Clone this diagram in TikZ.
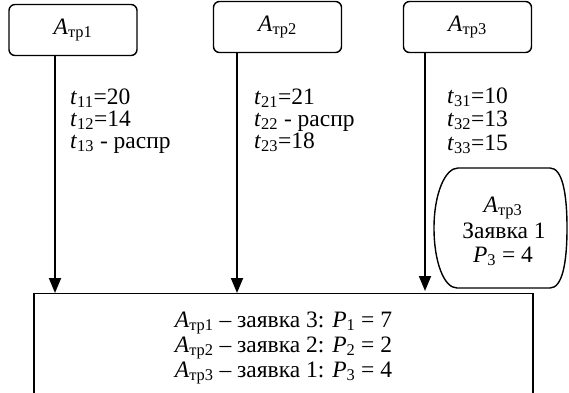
\documentclass[tikz,border=0pt]{standalone}
\usepackage{fontspec}
\setmainfont{Liberation Serif}
\usetikzlibrary{arrows.meta}
\newcommand\Atr[1]{\textit{A}\textsubscript{тр#1}}
\newcommand\tsub[1]{\textit{t}\textsubscript{#1}}
\newcommand\Psub[1]{\textit{P}\textsubscript{#1}}
\begin{document}
\begin{tikzpicture}[x=1pt,y=-1pt,
  font=\fontsize{23.5}{26}\selectfont,
  tbox/.style={draw, line width=1.4pt, rounded corners=6pt, inner sep=0pt,
    minimum width=128pt, minimum height=51pt},
  arr/.style={line width=1.8pt, -{Triangle[width=12pt,length=15pt]}},
  lbl/.style={anchor=base west, inner sep=0pt},
  ctr/.style={anchor=base, inner sep=0pt}]
\clip (0,0) rectangle (569,392);
\fill[white] (0,0) rectangle (569,392);
% top boxes
\node[tbox] (a1) at (73,30) {\Atr1};
\node[tbox] (a2) at (277.5,27) {\Atr2};
\node[tbox] (a3) at (467.5,27) {\Atr3};
% result box
\node[draw, line width=1.3pt, minimum width=499pt, minimum height=150pt,
  anchor=north, inner sep=0pt] (res) at (283.5,293) {};
\node[ctr] (r1) at (283.5,327) {\Atr1 – заявка 3: \Psub1 = 7};
\node[ctr] (r2) at (283.5,352) {\Atr2 – заявка 2: \Psub2 = 2};
\node[ctr] (r3) at (283.5,377) {\Atr3 – заявка 1: \Psub3 = 4};
% arrow x positions
\coordinate (p1) at (55,0);
\coordinate (p2) at (237,0);
\coordinate (p3) at (425,0);
\draw[arr] (a1.south -| p1) -- (res.north -| p1);
\draw[arr] (a2.south -| p2) -- (res.north -| p2);
\draw[arr, shorten >=2pt] (a3.south -| p3) -- (res.north -| p3);
% column texts
\node[lbl] (t11) at (70,104) {\tsub{11}=20};
\node[lbl] (t12) at (70,126) {\tsub{12}=14};
\node[lbl] (t13) at (70,148) {\tsub{13} - распр};
\node[lbl] (t21) at (254,104) {\tsub{21}=21};
\node[lbl] (t22) at (254,126) {\tsub{22} - распр};
\node[lbl] (t23) at (254,148) {\tsub{23}=18};
\node[lbl] (t31) at (447,103) {\tsub{31}=10};
\node[lbl] (t32) at (447,126) {\tsub{32}=13};
\node[lbl] (t33) at (447,150) {\tsub{33}=15};
% rounded request shape
\draw[line width=1.4pt] (458,168) -- (550,168)
  .. controls (562,168) and (567,192) .. (567,228)
  .. controls (567,264) and (562,288) .. (550,288)
  -- (457,288)
  .. controls (444,288) and (434,262) .. (434,228)
  .. controls (434,194) and (445,168) .. (458,168) -- cycle;
\node[ctr] (z1) at (503,212) {\Atr3};
\node[ctr] (z2) at (504,238) {Заявка 1};
\node[ctr] (z3) at (503,262) {\Psub3 = 4};
\end{tikzpicture}
\end{document}
